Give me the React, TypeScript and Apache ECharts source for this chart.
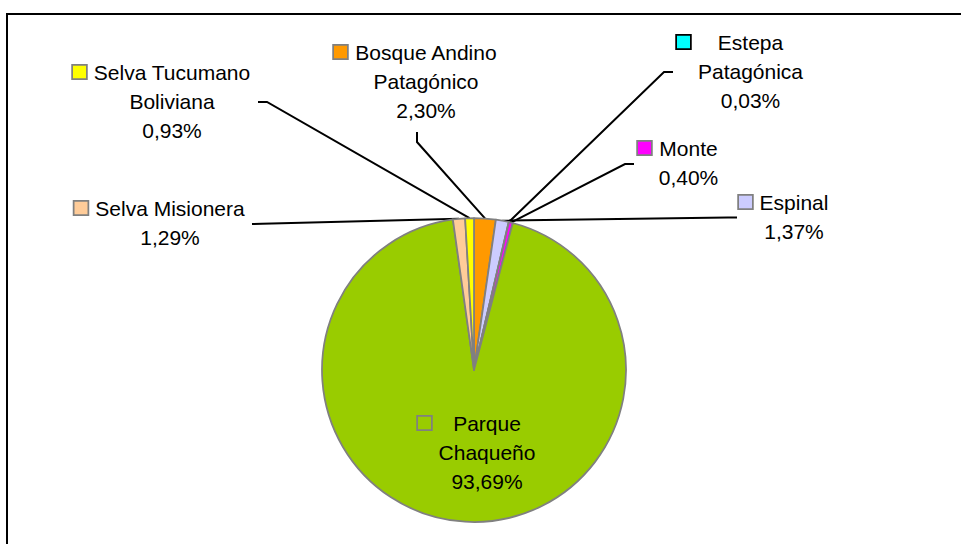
import React, { useEffect, useRef } from 'react';
import * as echarts from 'echarts';

// ---- data ----
const categories = [
  'Bosque Andino Patagónico',
  'Espinal',
  'Estepa Patagónica',
  'Monte',
  'Parque Chaqueño',
  'Selva Misionera',
  'Selva Tucumano Boliviana',
];
const labelLines = [
  ['Bosque Andino', 'Patagónico'],
  ['Espinal'],
  ['Estepa', 'Patagónica'],
  ['Monte'],
  ['Parque', 'Chaqueño'],
  ['Selva Misionera'],
  ['Selva Tucumano', 'Boliviana'],
];
const values = [2.3, 1.37, 0.03, 0.4, 93.69, 1.29, 0.93];
const colors = ['#FF9900', '#CCCCFF', '#00FFFF', '#FF00FF', '#99CC00', '#FFCC99', '#FFFF00'];
const keyBorders = ['#808080', '#808080', '#000000', '#808080', '#808080', '#808080', '#808080'];

// ---- layout (label text centre x, first line centre y, label-side leader points) ----
const labelPos: { cx: number; cy: number; line: number[][] | null }[] = [
  { cx: 426, cy: 52, line: [[417, 142], [417, 132]] },
  { cx: 794, cy: 202, line: [[728, 217.5], [737, 217.5]] },
  { cx: 750.5, cy: 42, line: [[664, 72], [673, 72]] },
  { cx: 688.5, cy: 148, line: [[625, 164], [634, 164]] },
  { cx: 487, cy: 423, line: null },
  { cx: 170, cy: 208, line: [[262, 223.7], [252, 224]] },
  { cx: 172, cy: 72, line: [[267, 102], [258, 102]] },
];

const FONT_SIZE = 21;
const FONT_FAMILY = '"Liberation Sans", Arial, sans-serif';
const LH = 29;
const KEY_W = 13;
const KEY_H = 12.5;
const GAP = 6.5;
const P = KEY_W + GAP;

function measure(text: string): number {
  const c = document.createElement('canvas');
  const ctx = c.getContext('2d');
  if (!ctx) return text.length * 11;
  ctx.font = `${FONT_SIZE}px "Liberation Sans", Arial, sans-serif`;
  return ctx.measureText(text).width;
}

const fmtPct = (v: number) => v.toFixed(2).replace('.', ',') + '%';

export default function App() {
  const ref = useRef<HTMLDivElement>(null);

  useEffect(() => {
    if (!ref.current) return;
    const chart = echarts.init(ref.current, undefined, { renderer: 'svg' });

    const rich: any = {
      g: { width: GAP, height: KEY_H, align: 'center', lineHeight: LH },
      p: { width: P, height: KEY_H, align: 'center', lineHeight: LH },
    };
    const widths: number[] = labelLines.map((lines, i) => {
      const all = [...lines, fmtPct(values[i])];
      return Math.ceil(Math.max(...all.map(measure))) + 2;
    });
    categories.forEach((_, i) => {
      rich['k' + i] = {
        width: KEY_W,
        height: KEY_H,
        backgroundColor: colors[i],
        borderColor: keyBorders[i],
        borderWidth: 1.75,
        align: 'center',
        lineHeight: LH,
      };
      rich['t' + i] = {
        width: widths[i],
        align: 'center',
        fontSize: FONT_SIZE,
        fontFamily: FONT_FAMILY,
        color: '#000000',
        lineHeight: LH,
      };
    });

    const data = categories.map((name, i) => {
      const item: any = { name, value: values[i], itemStyle: { color: colors[i] } };
      if (!labelPos[i].line) item.labelLine = { show: false };
      return item;
    });

    chart.setOption({
      animation: false,
      backgroundColor: '#ffffff',
      graphic: [
        {
          type: 'rect',
          silent: true,
          shape: { x: 7, y: 14, width: 962, height: 545 },
          style: { fill: 'none', stroke: '#000000', lineWidth: 2 },
        },
      ],
      series: [
        {
          type: 'pie',
          center: [474, 370],
          radius: 152,
          startAngle: 90,
          clockwise: true,
          avoidLabelOverlap: false,
          itemStyle: { borderColor: '#808080', borderWidth: 1.75 },
          label: {
            show: true,
            position: 'outside',
            fontSize: FONT_SIZE,
            fontFamily: FONT_FAMILY,
            color: '#000000',
            lineHeight: LH,
            formatter: (params: any) => {
              const i = params.dataIndex;
              const lines = [...labelLines[i], fmtPct(values[i])];
              return lines
                .map((l, j) =>
                  j === 0 ? `{k${i}|}{g|}{t${i}|${l}}` : `{p|}{t${i}|${l}}`
                )
                .join('\n');
            },
            rich,
          },
          labelLine: {
            show: true,
            length: 10,
            length2: 10,
            smooth: false,
            lineStyle: { color: '#000000', width: 2 },
          },
          labelLayout: (params: any) => {
            const i = params.dataIndex;
            const p = labelPos[i];
            const res: any = {
              x: p.cx - P / 2,
              y: p.cy - LH / 2,
              align: 'center',
              verticalAlign: 'top',
            };
            if (p.line && params.labelLinePoints && params.labelLinePoints[0]) {
              res.labelLinePoints = [params.labelLinePoints[0], p.line[0], p.line[1]];
            }
            return res;
          },
          emphasis: { disabled: true },
          data,
        },
      ],
    });

    return () => chart.dispose();
  }, []);

  return (
    <div
      ref={ref}
      style={{ position: 'fixed', left: 0, top: 0, width: 961, height: 544, background: '#fff' }}
    />
  );
}
